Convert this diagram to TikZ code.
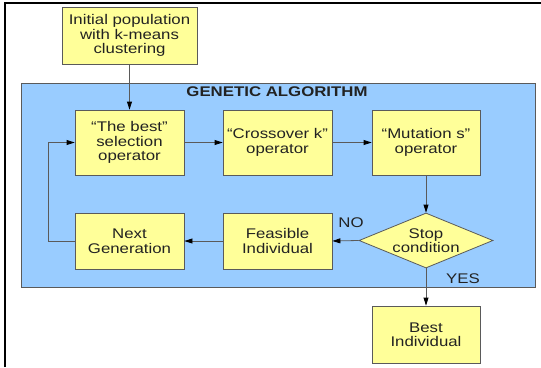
\documentclass[tikz,border=0pt]{standalone}
\usepackage{fontspec}
\setmainfont{Liberation Sans}[FakeStretch=1.2]
\usetikzlibrary{shapes.geometric,arrows.meta}
\definecolor{boxyellow}{HTML}{FFFF99}
\definecolor{gablue}{HTML}{99CCFF}
\definecolor{edgegray}{HTML}{5A5A5A}
\definecolor{txt}{HTML}{222222}
\begin{document}
\begin{tikzpicture}[x=1pt,y=-1pt,
  every node/.style={font=\fontsize{14}{14.5}\selectfont, text=txt},
  ybox/.style={draw=edgegray, line width=0.8pt, fill=boxyellow, align=center, inner sep=0pt},
  conn/.style={draw=edgegray, line width=0.8pt, -{Triangle[length=8pt,width=5pt,color=black,fill=black]}},
]
\useasboundingbox (0,0) rectangle (541,367);
% frame
\draw[black, line width=1.4pt] (5,367) -- (5,3) -- (541,3);
% genetic algorithm container
\node[draw=edgegray, line width=0.8pt, fill=gablue, minimum width=514pt, minimum height=204pt, inner sep=0pt] (ga) at (278,185) {};
\node[font=\fontsize{14}{14.5}\selectfont\bfseries] (title) at (277,92) {GENETIC ALGORITHM};
% nodes
\node[ybox, minimum width=135pt, minimum height=57pt] (init) at (129.5,35.5) {Initial population\\with k-means\\clustering};
\node[ybox, minimum width=109pt, minimum height=65pt] (sel) at (129.5,142.5) {“The best"\\selection\\operator};
\node[ybox, minimum width=109pt, minimum height=65pt] (cross) at (277.5,142.5) {“Crossover k"\\operator};
\node[ybox, minimum width=108pt, minimum height=65pt] (mut) at (426,142.5) {“Mutation s"\\operator};
\node[ybox, minimum width=109pt, minimum height=56pt] (next) at (129.5,241) {Next\\Generation};
\node[ybox, minimum width=109pt, minimum height=56pt] (feas) at (277.5,241) {Feasible\\Individual};
\node[ybox, diamond, aspect=2.4, minimum width=134pt, minimum height=55pt] (stop) at (426,240.5) {Stop\\condition};
\node[ybox, minimum width=108pt, minimum height=57pt] (best) at (426,334.5) {Best\\Individual};
% labels
\node (no) at (351,223) {NO};
\node (yes) at (463,279) {YES};
% connectors
\draw[conn] (init) -- (sel);
\draw[conn] (sel) -- (cross);
\draw[conn] (cross) -- (mut);
\draw[conn] (mut) -- (stop);
\draw[conn] (stop.west) -- (feas.east);
\draw[conn] (feas) -- (next);
\coordinate (loop) at (48,241);
\draw[conn] (next.west) -- (loop) |- (sel.west);
\draw[conn] (stop.south) -- (best.north);
\end{tikzpicture}
\end{document}
